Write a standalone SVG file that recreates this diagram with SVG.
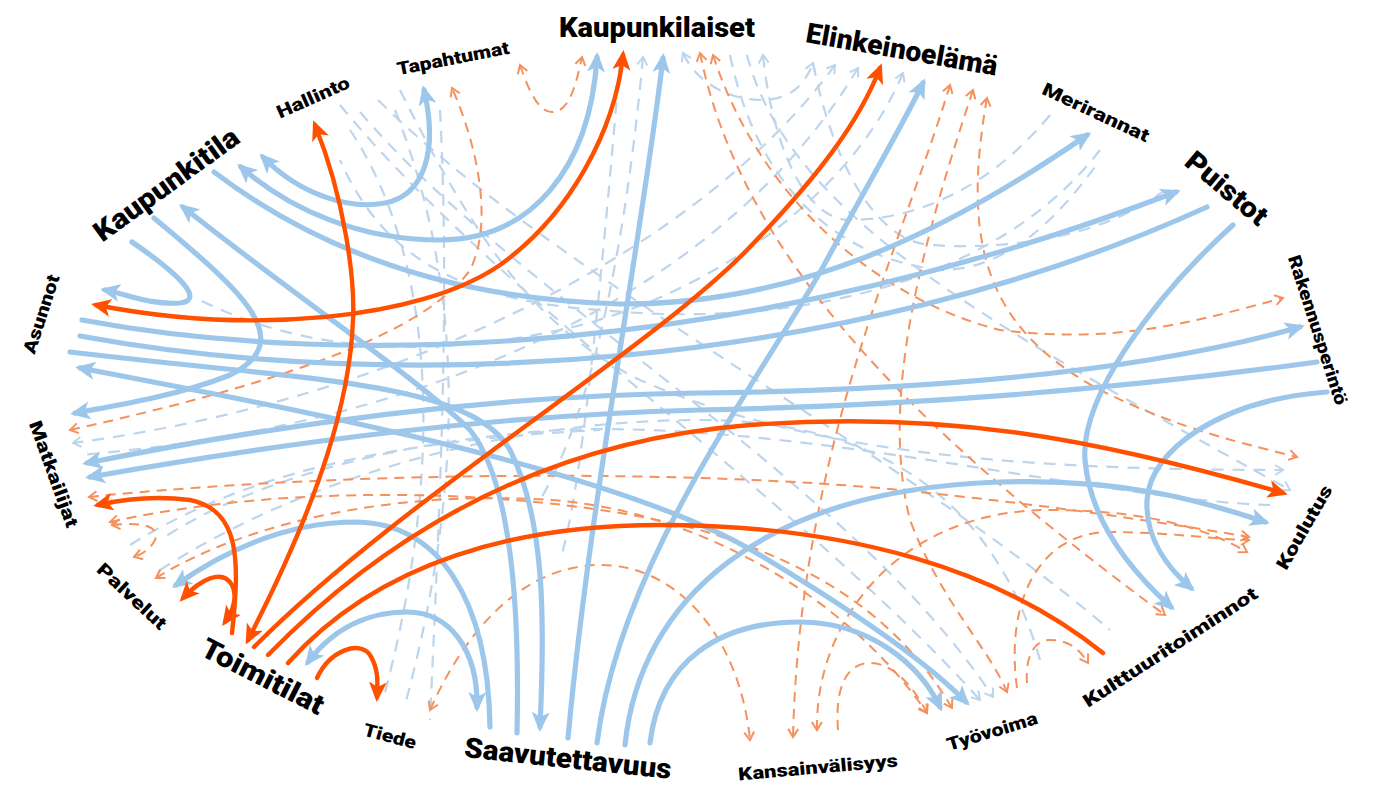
<svg xmlns="http://www.w3.org/2000/svg" width="1389" height="785" viewBox="0 0 1389 785">
<style>
.b{fill:none;stroke:#9cc6ea;stroke-width:5.2;stroke-linecap:round}
.o{fill:none;stroke:#ff5000;stroke-width:4.4;stroke-linecap:round}
.bd{fill:none;stroke:#bdd5ec;stroke-width:2.2;stroke-dasharray:12 9}
.od{fill:none;stroke:#f4915d;stroke-width:2;stroke-dasharray:10 7}
.lbl{font-family:Roboto,"Liberation Sans",sans-serif;font-weight:900;fill:#000;text-anchor:middle}
.big{font-size:28px}
.sm{font-size:18px}
</style>
<defs>
<marker id="ab" markerUnits="userSpaceOnUse" viewBox="0 0 20 18" markerWidth="20" markerHeight="18" refX="15" refY="9" orient="auto-start-reverse"><path d="M0,0 L20,9 L0,18 L5,9 z" fill="#9cc6ea"/></marker>
<marker id="ao" markerUnits="userSpaceOnUse" viewBox="0 0 20 18" markerWidth="20" markerHeight="18" refX="15" refY="9" orient="auto-start-reverse"><path d="M0,0 L20,9 L0,18 L5,9 z" fill="#ff5000"/></marker>
<marker id="sb" markerUnits="userSpaceOnUse" viewBox="-1 -1 12 12" markerWidth="12" markerHeight="12" refX="9" refY="5" orient="auto-start-reverse"><path d="M1,0 L9,5 L1,10" fill="none" stroke="#bdd5ec" stroke-width="2"/></marker>
<marker id="so" markerUnits="userSpaceOnUse" viewBox="-1 -1 12 12" markerWidth="12" markerHeight="12" refX="9" refY="5" orient="auto-start-reverse"><path d="M1,0 L9,5 L1,10" fill="none" stroke="#f4915d" stroke-width="2"/></marker>
</defs>
<rect width="1389" height="785" fill="#fff"/>
<g id="connectors">
<g id="dashed-blue">
<path class="bd" d="M 340,105 C 500,300 800,500 980,700" marker-end="url(#sb)"/>
<path class="bd" d="M 360,112 C 520,300 850,480 993,697" marker-end="url(#sb)"/>
<path class="bd" d="M 378,100 C 560,280 900,450 1110,630"/>
<path class="bd" d="M 400,90 C 480,250 540,330 640,380 C 800,450 1000,470 1283,470" marker-end="url(#sb)"/>
<path class="bd" d="M 350,130 C 430,250 450,450 383,700"/>
<path class="bd" d="M 395,110 C 470,300 460,500 405,705"/>
<path class="bd" d="M 683,53 C 700,90 740,100 760,100 C 790,100 805,85 813,63" marker-start="url(#sb)" marker-end="url(#sb)"/>
<path class="bd" d="M 730,55 C 760,200 850,260 940,270 C 1000,270 1050,230 1100,160"/>
<path class="bd" d="M 747,55 C 790,220 1000,330 1290,490" marker-end="url(#sb)"/>
<path class="bd" d="M 835,65 C 700,250 400,400 73,443" marker-start="url(#sb)" marker-end="url(#sb)"/>
<path class="bd" d="M 858,68 C 750,250 500,420 80,455" marker-start="url(#sb)"/>
<path class="bd" d="M 903,73 C 850,200 700,300 560,330 C 420,360 300,350 200,300" marker-start="url(#sb)"/>
<path class="bd" d="M 643,57 C 630,200 600,400 540,500" marker-start="url(#sb)"/>
<path class="bd" d="M 1100,150 C 1000,280 800,330 600,310 C 450,300 380,250 340,160"/>
<path class="bd" d="M 1165,190 C 1100,240 1000,250 930,245 C 870,240 830,150 813,63"/>
<path class="bd" d="M 1050,115 C 980,200 900,220 850,220 C 800,220 770,130 763,55" marker-end="url(#sb)"/>
<path class="bd" d="M 1270,505 C 1100,500 800,420 560,430 C 400,440 250,480 160,540"/>
<path class="bd" d="M 160,570 C 300,480 500,420 700,420 C 900,420 1000,520 1040,660"/>
<path class="bd" d="M 130,545 C 250,470 400,440 600,430"/>
<path class="bd" d="M 440,110 C 450,300 440,500 430,720"/>
<path class="bd" d="M 620,60 C 600,300 580,500 560,560"/>
</g>
<g id="dashed-orange">
<path class="od" d="M 70,430 C 250,390 420,340 470,270 C 495,220 475,140 452,88" marker-start="url(#so)" marker-end="url(#so)"/>
<path class="od" d="M 520,65 C 530,95 540,112 552,112 C 568,112 575,90 582,57" marker-start="url(#so)" marker-end="url(#so)"/>
<path class="od" d="M 700,53 C 740,250 900,420 1165,615" marker-start="url(#so)" marker-end="url(#so)"/>
<path class="od" d="M 713,55 C 760,200 880,300 1000,330 C 1120,345 1200,320 1283,298" marker-start="url(#so)" marker-end="url(#so)"/>
<path class="od" d="M 950,85 C 900,250 800,450 793,737" marker-start="url(#so)" marker-end="url(#so)"/>
<path class="od" d="M 973,90 C 920,250 880,400 910,520 C 940,600 990,650 1007,692" marker-start="url(#so)" marker-end="url(#so)"/>
<path class="od" d="M 987,98 C 960,250 990,330 1100,390 C 1180,430 1250,445 1297,457" marker-start="url(#so)" marker-end="url(#so)"/>
<path class="od" d="M 430,710 C 470,620 530,565 600,565 C 680,565 740,640 750,740" marker-start="url(#so)" marker-end="url(#so)"/>
<path class="od" d="M 112,525 C 140,522 160,525 155,540 C 150,550 140,555 134,557" marker-start="url(#so)" marker-end="url(#so)"/>
<path class="od" d="M 89,497 C 350,470 700,470 900,490 C 1050,505 1180,525 1249,537" marker-start="url(#so)" marker-end="url(#so)"/>
<path class="od" d="M 110,522 C 300,480 550,490 700,530 C 820,565 900,620 952,708" marker-start="url(#so)" marker-end="url(#so)"/>
<path class="od" d="M 156,578 C 250,520 400,490 550,500 C 700,510 850,600 927,713" marker-start="url(#so)" marker-end="url(#so)"/>
<path class="od" d="M 838,730 C 835,690 845,663 870,663 C 895,663 915,690 927,713" marker-end="url(#so)"/>
<path class="od" d="M 1027,683 C 1025,655 1035,640 1050,640 C 1070,640 1080,650 1088,663" marker-end="url(#so)"/>
<path class="od" d="M 1017,688 C 1005,600 1040,532 1110,532 C 1170,532 1220,540 1249,540" marker-end="url(#so)"/>
<path class="od" d="M 817,730 C 815,620 900,510 1050,510 C 1150,510 1210,530 1247,552" marker-start="url(#so)" marker-end="url(#so)"/>
</g>
<g id="solid-blue">
<path class="b" d="M 263,157 C 300,195 350,210 385,203 C 425,195 438,150 424,90" marker-start="url(#ab)" marker-end="url(#ab)"/>
<path class="b" d="M 241,167 C 290,210 360,240 440,240 C 530,240 590,170 597,57" marker-start="url(#ab)" marker-end="url(#ab)"/>
<path class="b" d="M 214,172 C 330,260 470,300 620,304 C 800,305 950,230 1087,135" marker-end="url(#ab)"/>
<path class="b" d="M 183,207 C 300,300 420,380 470,430 C 510,480 520,600 517,733" marker-start="url(#ab)"/>
<path class="b" d="M 154,218 C 240,290 300,340 230,375 C 180,395 120,405 75,413" marker-end="url(#ab)"/>
<path class="b" d="M 132,242 C 180,275 205,300 180,303 C 150,305 130,295 105,290" marker-end="url(#ab)"/>
<path class="b" d="M 82,320 C 350,370 750,355 1176,192" marker-end="url(#ab)"/>
<path class="b" d="M 80,336 C 400,395 850,370 1207,207"/>
<path class="b" d="M 70,352 C 300,380 470,380 510,450 C 545,520 545,620 540,727" marker-end="url(#ab)"/>
<path class="b" d="M 80,368 C 300,410 620,470 760,555 C 860,615 930,665 966,702" marker-start="url(#ab)" marker-end="url(#ab)"/>
<path class="b" d="M 87,463 C 300,420 500,395 700,393 C 950,390 1150,370 1300,327" marker-start="url(#ab)" marker-end="url(#ab)"/>
<path class="b" d="M 90,477 C 300,440 500,415 700,410 C 950,405 1150,385 1317,362" marker-start="url(#ab)"/>
<path class="b" d="M 568,738 C 590,500 640,250 663,58" marker-end="url(#ab)"/>
<path class="b" d="M 597,743 C 620,560 760,380 823,267 C 870,180 900,130 923,83" marker-end="url(#ab)"/>
<path class="b" d="M 625,745 C 640,600 760,490 1000,482 C 1120,478 1200,500 1265,522" marker-end="url(#ab)"/>
<path class="b" d="M 650,743 C 660,660 720,622 800,622 C 870,622 920,665 940,707" marker-end="url(#ab)"/>
<path class="b" d="M 308,662 C 340,620 380,612 407,612 C 450,612 478,650 477,707" marker-start="url(#ab)" marker-end="url(#ab)"/>
<path class="b" d="M 176,585 C 240,540 300,522 357,522 C 440,524 488,600 490,727" marker-start="url(#ab)"/>
<path class="b" d="M 1233,225 C 1150,300 1080,400 1085,460 C 1090,520 1130,570 1171,607" marker-end="url(#ab)"/>
<path class="b" d="M 1327,392 C 1220,400 1150,450 1147,500 C 1145,540 1170,570 1191,588" marker-end="url(#ab)"/>
</g>
<g id="solid-orange">
<path class="o" d="M 96,305 C 250,335 420,320 500,265 C 570,215 615,130 623,55" marker-start="url(#ao)" marker-end="url(#ao)"/>
<path class="o" d="M 315,125 C 345,200 355,280 353,320 C 350,400 320,500 248,640" marker-start="url(#ao)" marker-end="url(#ao)"/>
<path class="o" d="M 254,647 C 400,500 650,350 747,250 C 820,175 860,120 880,68" marker-end="url(#ao)"/>
<path class="o" d="M 268,655 C 400,520 560,440 750,425 C 950,410 1100,440 1283,493" marker-end="url(#ao)"/>
<path class="o" d="M 288,663 C 380,560 520,525 660,525 C 850,525 1000,570 1103,653"/>
<path class="o" d="M 232,633 C 240,560 240,510 190,500 C 150,495 120,500 98,505" marker-end="url(#ao)"/>
<path class="o" d="M 183,598 C 200,580 222,568 232,585 C 238,598 232,612 225,622" marker-start="url(#ao)" marker-end="url(#ao)"/>
<path class="o" d="M 317,678 C 330,650 360,640 370,655 C 378,668 378,680 377,697" marker-end="url(#ao)"/>
</g>
</g>
<g id="node-kaupunkilaiset"><text class="lbl big" transform="translate(657,27)" dy="10" textLength="196" lengthAdjust="spacingAndGlyphs">Kaupunkilaiset</text></g>
<g id="node-elinkeinoelama"><text class="lbl big" transform="translate(902,49) rotate(10)" dy="10" textLength="194" lengthAdjust="spacingAndGlyphs">Elinkeinoelämä</text></g>
<g id="node-tapahtumat"><text class="lbl sm" transform="translate(453,58) rotate(-11)" dy="6.5" textLength="114" lengthAdjust="spacingAndGlyphs">Tapahtumat</text></g>
<g id="node-hallinto"><text class="lbl sm" transform="translate(313,97) rotate(-24)" dy="6.5" textLength="78" lengthAdjust="spacingAndGlyphs">Hallinto</text></g>
<g id="node-kaupunkitila"><text class="lbl big" transform="translate(166,184) rotate(-36)" dy="10" textLength="172" lengthAdjust="spacingAndGlyphs">Kaupunkitila</text></g>
<g id="node-asunnot"><text class="lbl sm" transform="translate(41,314) rotate(-72)" dy="6.5" textLength="82" lengthAdjust="spacingAndGlyphs">Asunnot</text></g>
<g id="node-merirannat"><text class="lbl sm" transform="translate(1096,112) rotate(25)" dy="6.5" textLength="116" lengthAdjust="spacingAndGlyphs">Merirannat</text></g>
<g id="node-puistot"><text class="lbl big" transform="translate(1227,188) rotate(40)" dy="10" textLength="98" lengthAdjust="spacingAndGlyphs">Puistot</text></g>
<g id="node-rakennusperinto"><text class="lbl sm" transform="translate(1318,330) rotate(72)" dy="6.5" textLength="156" lengthAdjust="spacingAndGlyphs">Rakennusperintö</text></g>
<g id="node-matkailijat"><text class="lbl sm" transform="translate(54,474) rotate(70)" dy="6.5" textLength="112" lengthAdjust="spacingAndGlyphs">Matkailijat</text></g>
<g id="node-palvelut"><text class="lbl sm" transform="translate(132,596) rotate(43)" dy="6.5" textLength="88" lengthAdjust="spacingAndGlyphs">Palvelut</text></g>
<g id="node-toimitilat"><text class="lbl big" transform="translate(263,676) rotate(27)" dy="10" textLength="134" lengthAdjust="spacingAndGlyphs">Toimitilat</text></g>
<g id="node-tiede"><text class="lbl sm" transform="translate(390,736) rotate(15)" dy="6.5" textLength="54" lengthAdjust="spacingAndGlyphs">Tiede</text></g>
<g id="node-saavutettavuus"><text class="lbl big" transform="translate(568,758) rotate(6)" dy="10" textLength="208" lengthAdjust="spacingAndGlyphs">Saavutettavuus</text></g>
<g id="node-kansainvalisyys"><text class="lbl sm" transform="translate(818,767) rotate(-5)" dy="6.5" textLength="160" lengthAdjust="spacingAndGlyphs">Kansainvälisyys</text></g>
<g id="node-tyovoima"><text class="lbl sm" transform="translate(992,731) rotate(-17)" dy="6.5" textLength="94" lengthAdjust="spacingAndGlyphs">Työvoima</text></g>
<g id="node-kulttuuritoiminnot"><text class="lbl sm" transform="translate(1170,647) rotate(-33)" dy="6.5" textLength="204" lengthAdjust="spacingAndGlyphs">Kulttuuritoiminnot</text></g>
<g id="node-koulutus"><text class="lbl sm" transform="translate(1304,527) rotate(-60)" dy="6.5" textLength="94" lengthAdjust="spacingAndGlyphs">Koulutus</text></g>
</svg>
